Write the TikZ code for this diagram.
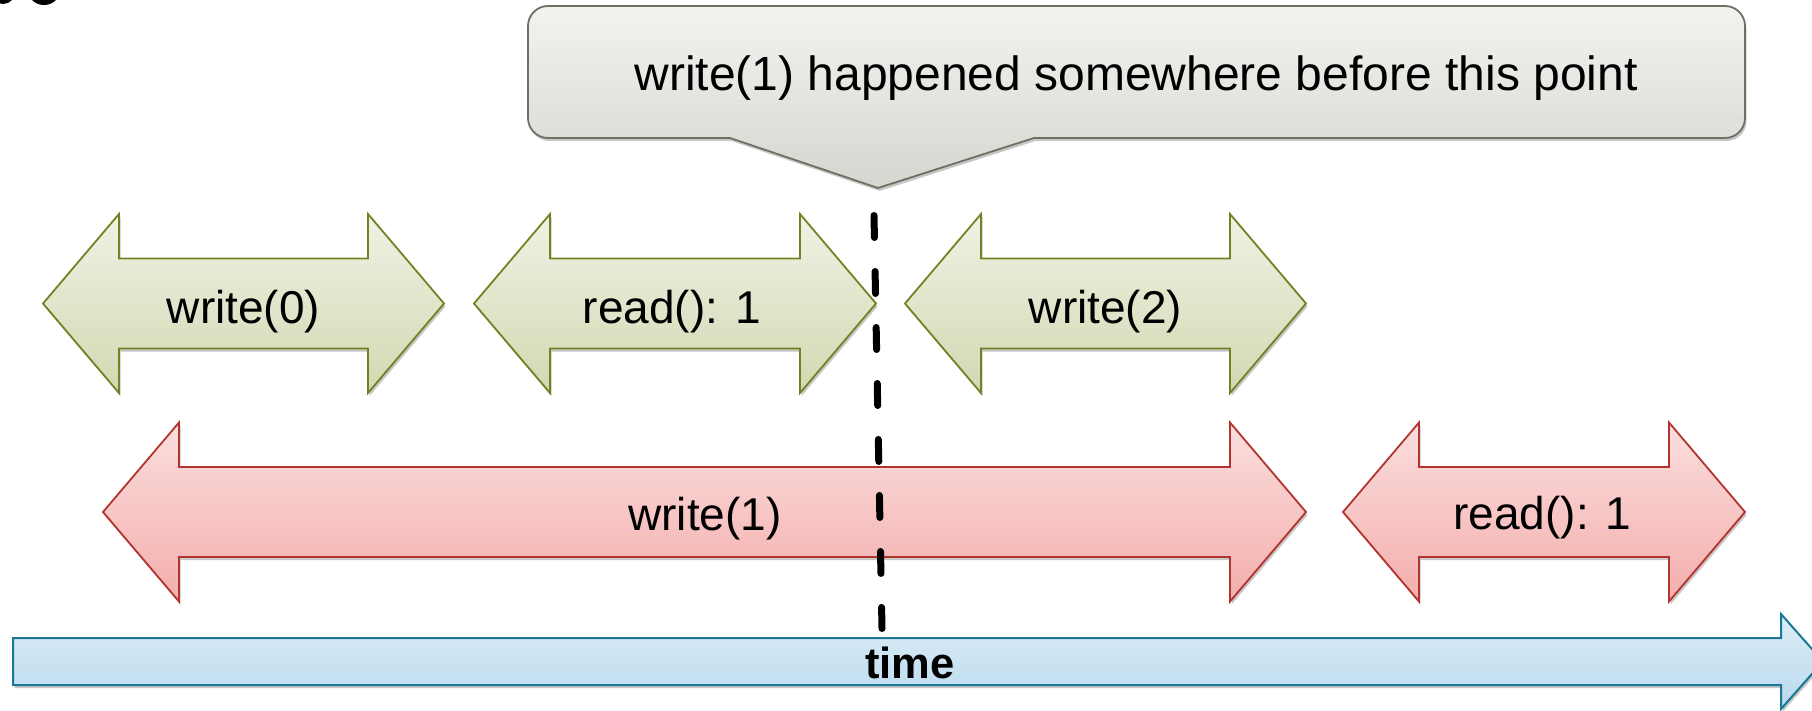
\documentclass[tikz,border=0pt]{standalone}
\usepackage{fontspec}
\setmainfont{Liberation Sans}
\usetikzlibrary{shadows}
\definecolor{grnline}{RGB}{118,128,34}
\definecolor{grntop}{RGB}{240,242,228}
\definecolor{grnbot}{RGB}{210,216,178}
\definecolor{redline}{RGB}{178,52,46}
\definecolor{redtop}{RGB}{251,222,222}
\definecolor{redbot}{RGB}{243,174,172}
\definecolor{bluline}{RGB}{26,120,150}
\definecolor{blutop}{RGB}{222,238,248}
\definecolor{blubot}{RGB}{184,217,237}
\definecolor{calline}{RGB}{112,112,96}
\definecolor{caltop}{RGB}{242,242,240}
\definecolor{calbot}{RGB}{214,214,208}
\newcommand\DArrow[4][]{%
  \path[#1] (#2,#4) -- ({#2+76},{#4-89.5}) -- ({#2+76},{#4-45}) -- ({#3-76},{#4-45})
    -- ({#3-76},{#4-89.5}) -- (#3,#4) -- ({#3-76},{#4+89.5}) -- ({#3-76},{#4+45})
    -- ({#2+76},{#4+45}) -- ({#2+76},{#4+89.5}) -- cycle;}
\begin{document}
\begin{tikzpicture}[x=1pt,y=-1pt,
  shadowed/.style={drop shadow={shadow xshift=1.5pt,shadow yshift=-3pt,opacity=0.22,fill=black}},
  greenarrow/.style={draw=grnline,line width=1.8pt,line join=miter,top color=grntop,bottom color=grnbot,shadowed},
  redarrow/.style={draw=redline,line width=1.8pt,line join=miter,top color=redtop,bottom color=redbot,shadowed},
  timearrow/.style={draw=bluline,line width=2pt,line join=miter,top color=blutop,bottom color=blubot,shadowed},
  callbox/.style={draw=calline,line width=1.8pt,top color=caltop,bottom color=calbot,shadowed},
  lbl/.style={anchor=base,inner sep=0pt,font=\fontsize{46pt}{55pt}\selectfont},
  calllbl/.style={anchor=base,inner sep=0pt,font=\fontsize{48pt}{58pt}\selectfont},
  timelbl/.style={anchor=base,inner sep=0pt,font=\fontsize{43.5pt}{52pt}\selectfont\bfseries},
  marker/.style={line width=7pt,line cap=round,dash pattern=on 22pt off 34pt}]
\useasboundingbox (0,0) rectangle (1812,710);
% cut-off glyph fragments at the top-left
\fill (3,-10) ellipse [x radius=13pt,y radius=14pt];
\fill (44,-10) ellipse [x radius=16pt,y radius=15pt];
% callout
\path[callbox] (730,138) -- (878,188) -- (1034,138)
  {[rounded corners=20pt] -- (1745,138) -- (1745,6) -- (528,6) -- (528,138)} -- cycle;
\node[calllbl] (callout) at (1136,90) {write(1) happened somewhere before this point};
\coordinate (tip) at (878,188);
% green operations
\DArrow[greenarrow]{43}{444}{303.5}
\DArrow[greenarrow]{474}{876}{303.5}
\DArrow[greenarrow]{905}{1306}{303.5}
\node[lbl] (w0) at (243.5,323) {write(0)};
\node[lbl] (r1a) at (672,323) {read(): 1};
\node[lbl] (w2) at (1105.5,323) {write(2)};
% red operations
\DArrow[redarrow]{103}{1306}{512}
\DArrow[redarrow]{1343}{1745}{512}
\node[lbl] (w1) at (705,530) {write(1)};
\node[lbl] (r1b) at (1542.5,529) {read(): 1};
% time arrow
\path[timearrow] (13,638) -- (1781,638) -- (1781,614) -- (1823,661.5) -- (1781,709)
  -- (1781,685) -- (13,685) -- cycle;
\node[timelbl] (time) at (910,678) {time};
% dashed marker
\coordinate (dtop) at (874,215.5);
\coordinate (dbot) at (882,628.5);
\draw[marker] (dtop) -- (dbot);
\end{tikzpicture}
\end{document}
